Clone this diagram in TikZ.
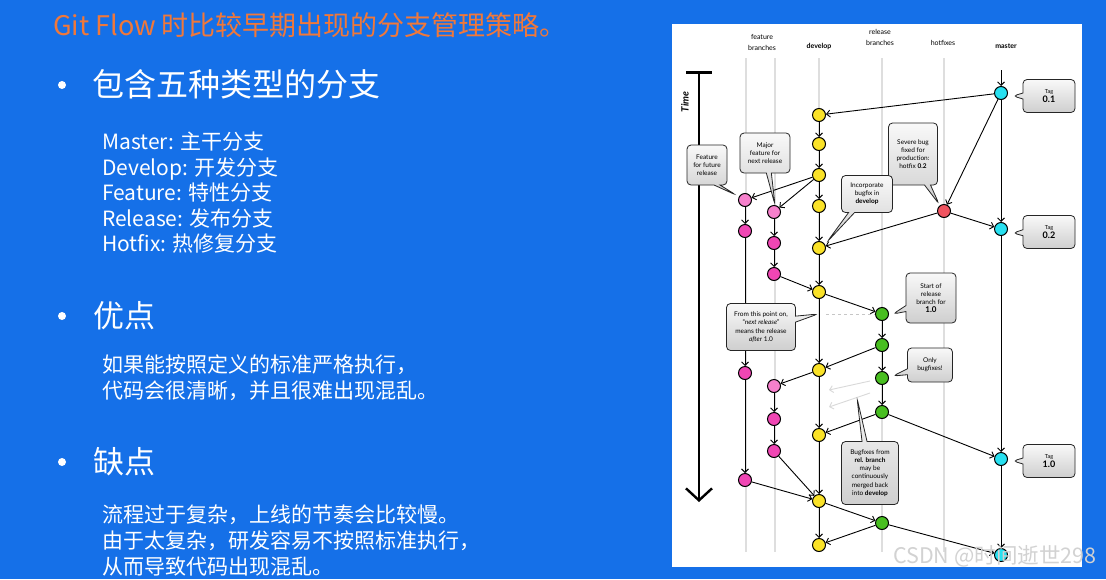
\documentclass[tikz,border=0pt]{standalone}
\usepackage{fontspec}
\setmainfont{Noto Sans CJK SC}
\newfontfamily\diagfont{Lato}
\usetikzlibrary{arrows.meta, shapes.callouts}

\definecolor{slideblue}{RGB}{21,112,232}
\definecolor{titleorange}{RGB}{240,120,58}
\definecolor{lanegray}{RGB}{222,222,222}
\definecolor{tagcyan}{RGB}{40,224,240}
\definecolor{devyellow}{RGB}{250,226,40}
\definecolor{featpink}{RGB}{240,70,180}
\definecolor{featlight}{RGB}{246,128,204}
\definecolor{relgreen}{RGB}{72,190,32}
\definecolor{fixred}{RGB}{240,84,96}

\tikzset{
  commit/.style={circle, draw=black, line width=1pt, minimum size=13pt, inner sep=0pt},
  flow/.style={draw=black, line width=0.9pt, -{Straight Barb[length=3.5pt,width=7pt,line width=0.9pt]}},
  fadeflow/.style={draw=gray!30, line width=0.9pt, -{Straight Barb[length=3.5pt,width=7pt,line width=0.9pt]}},
  lane/.style={draw=lanegray, line width=2pt},
  bubble/.style={rectangle callout, draw=black!85, line width=0.8pt, rounded corners=4pt,
    top color=gray!5, bottom color=gray!38, align=center, inner sep=1pt,
    font=\diagfont\fontsize{6.5}{8.2}\selectfont, callout pointer width=6pt},
  tagbubble/.style={bubble, minimum width=52pt, minimum height=33pt},
  header/.style={font=\diagfont\fontsize{7}{11}\selectfont, align=center, inner sep=0pt},
  slidetext/.style={anchor=west, inner sep=0pt, text=white, align=left},
  bulletdot/.style={circle, fill=white, minimum size=8pt, inner sep=0pt},
}

\begin{document}
\begin{tikzpicture}[x=1pt, y=-1pt]
    \useasboundingbox (0,0) rectangle (1106,579);
    \fill[slideblue] (0,0) rectangle (1106,579);

    \node[slidetext, text=titleorange, font=\fontsize{27}{32}\selectfont] (title) at (53,25) {Git Flow 时比较早期出现的分支管理策略。};

    \node[bulletdot] (dot1) at (62,85) {};
    \node[slidetext, font=\fontsize{32}{38}\selectfont] (kinds) at (92,84) {包含五种类型的分支};
    \node[slidetext, font=\fontsize{21}{25.5}\selectfont] (kindlist) at (102,193) {Master: 主干分支\\Develop: 开发分支\\Feature: 特性分支\\Release: 发布分支\\Hotfix: 热修复分支};

    \node[bulletdot] (dot2) at (62,316) {};
    \node[slidetext, font=\fontsize{31}{36}\selectfont] (pros) at (93,316) {优点};
    \node[slidetext, font=\fontsize{21}{26}\selectfont] (prostext) at (102,378) {如果能按照定义的标准严格执行，\\代码会很清晰，并且很难出现混乱。};

    \node[bulletdot] (dot3) at (62,462) {};
    \node[slidetext, font=\fontsize{31}{36}\selectfont] (cons) at (93,462) {缺点};
    \node[slidetext, font=\fontsize{21}{26}\selectfont] (constext) at (102,540) {流程过于复杂，上线的节奏会比较慢。\\由于太复杂，研发容易不按照标准执行，\\从而导致代码出现混乱。};

    % git flow panel
    \fill[white] (672,24) rectangle (1082,567);

    \node[header] (hfeature) at (762,42) {feature\\branches};
    \node[header, font=\diagfont\bfseries\fontsize{7}{11}\selectfont] (hdevelop) at (819,46) {develop};
    \node[header] (hrelease) at (880,37) {release\\branches};
    \node[header] (hhotfix) at (943,43) {hotfixes};
    \node[header, font=\diagfont\bfseries\fontsize{7}{11}\selectfont] (hmaster) at (1006,46) {master};

    \foreach \lx in {746,775,819,882,944}
        \draw[lane] (\lx,58) -- (\lx,552);

    \coordinate (timecapl) at (686,72);
    \coordinate (timecapr) at (712,72);
    \coordinate (timetop) at (699,72);
    \coordinate (timeend) at (699,502);
    \draw[line width=3pt] (timecapl) -- (timecapr);
    \draw[line width=2.4pt, -{Straight Barb[length=12pt,width=26pt,line width=2.4pt]}] (timetop) -- (timeend);
    \node[rotate=90, font=\diagfont\bfseries\itshape\fontsize{10}{12}\selectfont] (timelabel) at (685,102) {Time};

    \node[commit, fill=tagcyan] (m01) at (1001,93) {};
    \node[commit, fill=tagcyan] (m02) at (1001,229) {};
    \node[commit, fill=tagcyan] (m10) at (1001,459) {};
    \node[commit, fill=tagcyan] (m11) at (1001,555) {};
    \node[commit, fill=fixred] (hf) at (944,211) {};

    \foreach \n/\y in {1/115,2/144,3/175,4/206,5/248,6/292,7/370,8/435,9/501,10/545}
        \node[commit, fill=devyellow] (d\n) at (819,\y) {};

    \node[commit, fill=featlight] (f1a) at (745,200) {};
    \node[commit, fill=featpink] (f1b) at (745,231) {};
    \node[commit, fill=featpink] (f1c) at (745,373) {};
    \node[commit, fill=featpink] (f1d) at (745,480) {};
    \node[commit, fill=featlight] (f2a) at (774,212) {};
    \node[commit, fill=featpink] (f2b) at (774,243) {};
    \node[commit, fill=featpink] (f2c) at (774,274) {};
    \node[commit, fill=featlight] (f2d) at (774,386) {};
    \node[commit, fill=featpink] (f2e) at (774,419) {};
    \node[commit, fill=featpink] (f2f) at (774,451) {};

    \foreach \n/\y in {1/314,2/345,3/378,4/412,5/523}
        \node[commit, fill=relgreen] (r\n) at (882,\y) {};

    \coordinate (mtop) at (1001,70);
    \coordinate (dashstart) at (826,314);
    \coordinate (fadeA) at (870,381);
    \coordinate (fadeB) at (829,390);
    \coordinate (fadeC) at (870,393);
    \coordinate (fadeD) at (829,407);

    \draw[gray!45, dashed, line width=0.8pt] (dashstart) -- (r1);
    \draw[fadeflow] (fadeA) -- (fadeB);
    \draw[fadeflow] (fadeC) -- (fadeD);

    \foreach \a/\b in {mtop/m01, m01/d1, m01/hf, m01/m02, hf/m02, hf/d5,
        d1/d2, d2/d3, d3/d4, d4/d5, d5/d6, d6/d7, d7/d8, d8/d9, d9/d10,
        d3/f1a, d3/f2a, f1a/f1b, f1b/f1c, f1c/f1d, f1d/d9,
        f2a/f2b, f2b/f2c, f2c/d6, d7/f2d, f2d/f2e, f2e/f2f, f2f/d9,
        d6/r1, r1/r2, r2/r3, r3/r4, r2/d7, r4/d8, r4/m10,
        d9/r5, r5/d10, r5/m11, m02/m10, m10/m11}
        \draw[flow] (\a) -- (\b);

    \node[tagbubble, callout absolute pointer={(1013,96)}] (tag01) at (1049,96) {{\fontsize{5.5}{7}\selectfont Tag}\\{\bfseries\fontsize{9}{11}\selectfont 0.1}};
    \node[tagbubble, callout absolute pointer={(1013,233)}] (tag02) at (1049,232) {{\fontsize{5.5}{7}\selectfont Tag}\\{\bfseries\fontsize{9}{11}\selectfont 0.2}};
    \node[tagbubble, callout absolute pointer={(1013,461)}] (tag10) at (1049,461) {{\fontsize{5.5}{7}\selectfont Tag}\\{\bfseries\fontsize{9}{11}\selectfont 1.0}};

    \node[bubble, minimum width=40pt, minimum height=40pt, callout absolute pointer={(736,195)}] (futurenote) at (707,165) {Feature\\for future\\release};
    \node[bubble, minimum width=50pt, minimum height=40pt, callout pointer width=5pt, callout absolute pointer={(775,205)}] (majornote) at (765,153) {Major\\feature for\\next release};
    \node[bubble, minimum width=49pt, minimum height=62pt, callout absolute pointer={(939,204)}] (severenote) at (913,154) {Severe bug\\fixed for\\production:\\hotfix \textbf{0.2}};
    \node[bubble, minimum width=51pt, minimum height=37pt, callout absolute pointer={(827,242)}] (bugfixnote) at (867,194) {Incorporate\\bugfix in\\\textbf{develop}};
    \node[bubble, minimum width=50pt, minimum height=50pt, callout absolute pointer={(893,314)}] (startnote) at (931,298) {Start of\\release\\branch for\\{\bfseries\fontsize{8}{10}\selectfont 1.0}};
    \node[bubble, minimum width=69pt, minimum height=47pt, callout absolute pointer={(818,314)}] (pointnote) at (761,327) {From this point on,\\“\textit{next release}”\\means the release\\\textit{after} 1.0};
    \node[bubble, minimum width=45pt, minimum height=34pt, callout absolute pointer={(893,376)}] (onlynote) at (930,365) {Only\\bugfixes!};
    \node[bubble, minimum width=57pt, minimum height=63pt, callout pointer width=5pt, callout absolute pointer={(857,398)}] (mergenote) at (870,473) {Bugfixes from\\\textbf{rel. branch}\\may be\\continuously\\merged back\\into \textbf{develop}};

    \node[anchor=west, inner sep=0pt, text=gray!35, font=\fontsize{21.5}{23}\selectfont] (csdn) at (893,556) {CSDN @时间逝世298};
\end{tikzpicture}
\end{document}
